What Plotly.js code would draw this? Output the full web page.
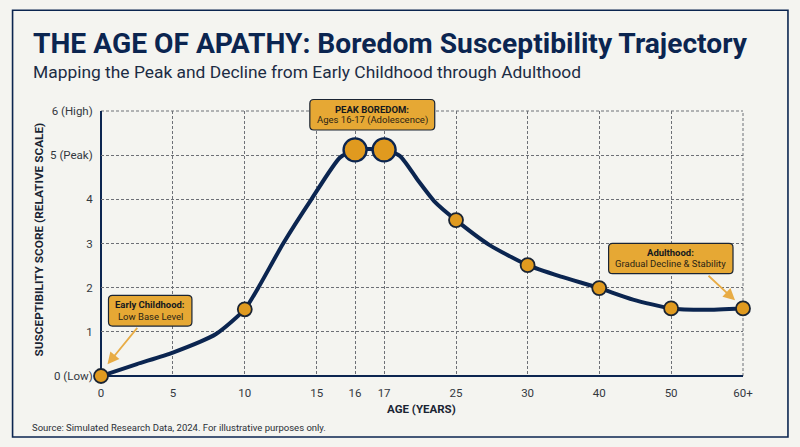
<!DOCTYPE html>
<html><head><meta charset="utf-8">
<script src="https://cdn.plot.ly/plotly-3.0.0.min.js"></script>
<style>html,body{margin:0;padding:0;background:#f4f4f0;}#c{width:800px;height:447px;}</style>
</head><body><div id="c"></div>
<script>
const tickLabels = ['0','5','10','15','16','17','25','30','40','50','60+'];
const tickScale = [0,5,10,15,17.67,19.69,24.69,29.67,34.65,39.65,44.65];
const yTickVals = [0,1,2,3,4,5,6];
const yTickLabels = ['0 (Low)','1','2','3','4','5 (Peak)','6 (High)'];
const stageScale = [0,10,24.69,29.67,34.65,39.65,44.65];
const stageScore = [0,1.51,3.53,2.51,1.99,1.53,1.53];
const peakScale = [17.67,19.69];
const peakScore = [5.12,5.12];
const curveScale = [0,2.5,5,8,10,10.94,12.67,14.63,16.63,17.67,19.69,20.8,22,23.2,24.69,27,29.67,32,34.65,37,39.65,42,44.65];
const curveScore = [0,0.27,0.53,0.95,1.51,2,3,4,4.95,5.12,5.12,4.98,4.45,3.95,3.53,2.97,2.51,2.25,1.99,1.73,1.53,1.5,1.53];

const W=800,H=447,L=100.5,R=743,T=110.5,B=375.7;
const px=x=>(x-L)/(R-L), py=y=>(B-y)/(B-T);
function box(x0,y0,x1,y1,r){
  const f=(x,y)=>px(x).toFixed(5)+','+py(y).toFixed(5);
  return 'M'+f(x0+r,y0)+' L'+f(x1-r,y0)+' Q'+f(x1,y0)+' '+f(x1,y0+r)+' L'+f(x1,y1-r)+' Q'+f(x1,y1)+' '+f(x1-r,y1)+
    ' L'+f(x0+r,y1)+' Q'+f(x0,y1)+' '+f(x0,y1-r)+' L'+f(x0,y0+r)+' Q'+f(x0,y0)+' '+f(x0+r,y0)+' Z';
}
const navy='#0b2550', gold='#e09a1f', boxFill='#e6a834', ink='#1a2433', gridC='#6d7076';
const callout=(x0,y0,x1,y1)=>({type:'path',xref:'paper',yref:'paper',path:box(x0,y0,x1,y1,4),fillcolor:boxFill,line:{color:ink,width:1.2},layer:'above'});
const text=(x,y,t,size,color,anchor,extra)=>Object.assign({xref:'paper',yref:'paper',x:px(x),y:py(y),text:t,showarrow:false,xanchor:anchor||'left',yanchor:'middle',font:{family:'Roboto',size:size,color:color}},extra||{});
const arrow=(x0,y0,x1,y1)=>({xref:'paper',yref:'paper',x:px(x1),y:py(y1),ax:x0-x1,ay:y0-y1,axref:'pixel',ayref:'pixel',text:'',showarrow:true,arrowhead:2,arrowsize:1.3,arrowwidth:1.8,arrowcolor:'#e8ac45'});

const traces=[
 {x:curveScale,y:curveScore,mode:'lines',line:{color:navy,width:4,shape:'spline',smoothing:0.6},hoverinfo:'skip',cliponaxis:false},
 {x:stageScale,y:stageScore,mode:'markers',marker:{size:14,color:gold,line:{color:ink,width:1.8}},cliponaxis:false},
 {x:peakScale,y:peakScore,mode:'markers',marker:{size:23,color:gold,line:{color:navy,width:2.4}},cliponaxis:false}
];
const grid={showgrid:true,gridcolor:gridC,griddash:'3px,2px',gridwidth:1,zeroline:false};
const layout={
 width:W,height:H,margin:{l:L,r:W-R,t:T,b:H-B},paper_bgcolor:'#f4f4f0',plot_bgcolor:'#f4f4f0',showlegend:false,
 font:{family:'Roboto',color:'#33383f'},
 xaxis:Object.assign({},grid,{range:[0,44.65],tickmode:'array',tickvals:tickScale,ticktext:tickLabels,tickfont:{family:'Roboto',size:11.5,color:'#33383f'},ticks:'outside',ticklen:6,tickcolor:'rgba(0,0,0,0)',showline:false,automargin:false}),
 yaxis:Object.assign({},grid,{range:[0,6],tickmode:'array',tickvals:yTickVals,ticktext:yTickLabels,tickfont:{family:'Roboto',size:11.5,color:'#33383f'},ticks:'outside',ticklen:5,tickcolor:'rgba(0,0,0,0)',showline:false,automargin:false}),
 shapes:[
  {type:'rect',xref:'paper',yref:'paper',x0:px(12),x1:px(788),y0:py(9.7),y1:py(436.7),line:{color:navy,width:1.6},fillcolor:'rgba(0,0,0,0)',layer:'below'},
  {type:'line',xref:'paper',yref:'paper',x0:0,x1:1,y0:1,y1:1,line:{color:gridC,width:1,dash:'3px,2px'},layer:'below'},
  {type:'line',xref:'paper',yref:'paper',x0:1,x1:1,y0:0,y1:1,line:{color:gridC,width:1,dash:'3px,2px'},layer:'below'},
  {type:'line',xref:'paper',yref:'paper',x0:0,x1:0,y0:0,y1:1,line:{color:navy,width:2},layer:'below'},
  {type:'line',xref:'paper',yref:'paper',x0:0,x1:1,y0:0,y1:0,line:{color:navy,width:2},layer:'below'},
  callout(309.5,99,434.5,129.5),
  callout(108,295,191.5,325.7),
  callout(608.5,243,733,273.3)
 ],
 annotations:[
  text(30,43,'<b>THE AGE OF APATHY: Boredom Susceptibility Trajectory</b>',28.2,navy),
  text(30,71.5,'Mapping the Peak and Decline from Early Childhood through Adulthood',17.4,'#1c2c44'),
  text(29,427,'Source: Simulated Research Data, 2024. For illustrative purposes only.',9.5,'#2a2f36'),
  text(421.5,408.5,'<b>AGE (YEARS)</b>',11.5,'#1a2433','center'),
  text(38,239.5,'<b>SUSCEPTIBILITY SCORE (RELATIVE SCALE)</b>',11.8,'#1a2433','center',{textangle:-90}),
  text(372,108.5,'<b>PEAK BOREDOM:</b>',9.5,'#14181f','center'),
  text(372,120,'Ages 16-17 (Adolescence)',9.5,'#2b2415','center'),
  text(149.7,304.5,'<b>Early Childhood:</b>',9.5,'#14181f','center'),
  text(149.7,316,'Low Base Level',9.5,'#2b2415','center'),
  text(670.5,252.5,'<b>Adulthood:</b>',9.5,'#14181f','center'),
  text(670.5,263.5,'Gradual Decline & Stability',9.5,'#2b2415','center'),
  arrow(138,326,107,364),
  arrow(707,274,735,300)
 ]
};
Plotly.newPlot('c',traces,layout,{displayModeBar:false,staticPlot:true});
</script></body></html>
